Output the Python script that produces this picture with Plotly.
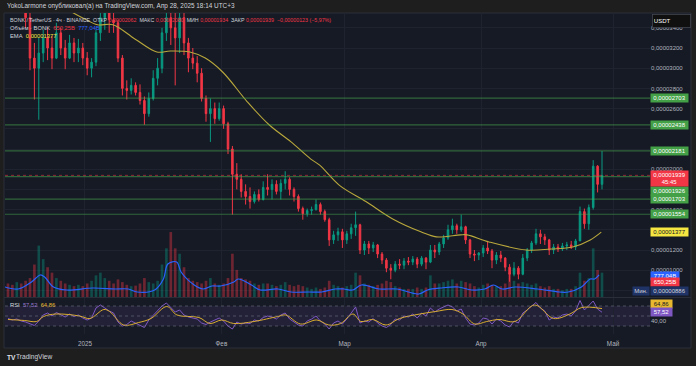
import plotly.graph_objects as go
import pandas as pd

W, H = 696, 366
FONT = "Liberation Sans, Arial, sans-serif"

# ---------------- data (prices in units of 1e-6 USDT, volume in billions BONK) ----------------
candle_dates = pd.date_range("2024-12-14 12:00", periods=136, freq="D")

open_ = [38,37.5,36.8,37.2,36.2,35,31,30,31.5,33, 32,31,33.5,32,31,32.5,31.5,32,31,30,
         30.6,33.5,35,35.5,34.8,34.5,31,28,27.8,28.3, 27.6,26.8,25.5,27,29,30,33.5,35,34,33,
         35,32.5,31,30.5,29.5,27,25.5,26,25,26, 24.5,22,19.5,19,17.8,17.3,16.8,17.5,17,18.2,
         18,18.5,17.8,18.6,19,18,17.3,16.1,15.6,15.9, 16,16.5,15.8,15,13,13.5,13.8,13,13.6,14.2,
         14.5,12,12.6,12.2,12.5,11.6,11,10.2,10,10.6, 10.5,10.9,10.8,11.1,10.6,11.2,10.8,12,11.8,12.6,
         13.2,14,14.4,14,14.3,13,11.6,11.5,11.7,12.2, 11.9,11,11.5,11.2,10.3,9.6,10.2,9.6,11.2,12,
         12.7,13.6,13.3,13,12,12.3,12.1,12.4,12.5,12.3, 12.9,15.8,14.6,16.2,20.3,18.5]
high = [39,38.5,38,37.8,36.8,36.5,32.5,33,33.8,34, 33.2,34.5,34,32.8,33.3,33,32.9,32.5,31.6,31,
        33.8,36,37,37,36,34.8,31.3,28.8,29,28.6, 28.4,27.2,27.6,29.8,31,34,36.5,37,36,36.5,
        36,33,32,31.2,30,27.3,27,26.6,26.6,26.3, 24.7,22.3,20.6,19.5,18.5,18.2,17.8,18,18.8,19.5,
        19,18.9,19,19.8,19.2,18.2,17.5,16.3,16.1,16.3, 17,16.7,16,15.2,13.9,14.2,14.1,13.9,14.6,15.8,
        14.6,12.9,12.9,12.8,12.6,11.8,11.2,10.6,10.9,11.1, 11.2,11.3,11.4,11.3,11.4,11.3,12.5,12.5,12.8,13.5,
        14.5,15.1,14.6,15.5,14.4,13.1,12,11.8,12.5,12.9, 12.1,11.8,11.9,11.3,10.6,10.8,10.4,11.6,12.2,12.9,
        14.1,14,13.6,13.1,12.6,12.6,12.7,12.8,12.9,13.1, 16.3,16.1,16.5,20.9,20.4,21.8]
low = [36.5,36,36,35.8,34,29.8,26.9,24.9,30.6,30.8, 29.9,30.9,31.3,29.9,30.9,30.6,30.6,30.3,29.3,29.1,
       30.2,32.7,33.8,33.5,33.5,30.6,27.3,26.9,27.4,27.3, 26.4,24.4,25.2,26.8,28.3,29.5,32.7,32.3,28.3,31.5,
       31.3,29.6,29.9,28.6,26.7,24.7,22.7,24.5,24.8,24, 21.5,15.5,18,17.2,16.5,16.1,16.6,16.8,16.9,17.4,
       17,17.5,17,18,17.4,16.8,15.8,15,15.3,15.5, 15.9,15.5,14.8,12.4,12.6,12.9,12.2,12.6,13.1,13.4,
       11.6,11.5,11.6,11.8,11.2,10.6,9.8,9.1,9.8,10.1, 10.1,10.5,10.5,10.2,10.4,10.1,10.7,11.2,11.5,12.2,
       13,13.6,13.6,13.8,12.6,11.2,10.9,11,11.3,11.6, 10.2,10.6,10.8,9.9,8.86,9.4,9.1,9.5,10.9,11.7,
       12.5,12.6,12.5,11.5,11.6,11.8,11.9,12,12.1,12, 12.9,14.1,14,16,17.7,18]
close = [37.5,36.8,37.2,36.2,35,31,30,31.5,33,32, 31,33.5,32,31,32.5,31.5,32,31,30,30.6,
         33.5,35,35.5,34.8,34.5,31,28,27.8,28.3,27.6, 26.8,25.5,27,29,30,33.5,35,34,33,35,
         32.5,31,30.5,29.5,27,25.5,26,25,26,24.5, 22,19.5,19,17.8,17.3,16.8,17.5,17,18.2,18,
         18.5,17.8,18.6,19,18,17.3,16.1,15.6,15.9,16, 16.5,15.8,15,13,13.5,13.8,13,13.6,14.2,14.5,
         12,12.6,12.2,12.5,11.6,11,10.2,10,10.6,10.5, 10.9,10.8,11.1,10.6,11.2,10.8,12,11.8,12.6,13.2,
         14,14.4,14,14.3,13,11.6,11.5,11.7,12.2,11.9, 11,11.5,11.2,10.3,9.6,10.2,9.6,11.2,12,12.7,
         13.6,13.3,13,12,12.3,12.1,12.4,12.5,12.3,12.9, 15.8,14.6,16.2,20.3,18.5,19.39]
volume_b = [500,450,550,500,600,700,1200,1900,1400,1100, 900,700,600,500,450,400,450,400,500,600,
            800,900,700,600,500,650,550,450,400,420, 500,700,550,500,600,1200,1800,2400,1800,1600,
            1100,700,600,550,500,600,700,500,450,500, 700,1600,1000,700,650,600,500,450,500,500,
            450,400,450,550,450,400,450,400,350,300, 350,300,350,600,450,400,350,400,450,900,
            800,500,450,400,450,500,600,550,400,350, 300,300,300,350,300,350,800,500,500,550,
            600,650,500,600,550,500,400,350,450,500, 450,400,400,500,900,600,500,550,500,450,
            500,400,350,400,300,300,250,300,300,400, 900,600,700,1800,1000,900]

line_t0 = pd.Timestamp("2024-12-13 20:00")   # origin for the day offsets below
vol_ma_day = [0,3,6,8,9,11,14,20,25,28,30,34,36,37,39,40,43,45,47,49,52,53,56,58,62,65,69,72,75,77,
              79,81,85,89,94,96,99,103,106,109,111,113,116,121,126,128,131,133,134,135]
vol_ma_b = [370,296,555,814,740,370,259,333,296,296,185,259,666,1220,1295,925,444,296,407,407,
            555,666,444,259,296,185,185,185,296,296,259,444,296,296,111,259,333,370,259,296,
            444,296,370,296,185,185,370,666,666,814]
ema_day = [0,10,15,18,21,24.5,29.5,34.5,37.5,42,45.5,49.5,55,60,65,69.5,71.5,76,82,88,94.5,98,
           103.5,105,110,118.5,124,129,133,135.5]
ema_val = [40,37,35.6,34.9,34.3,34.3,32.9,31.6,31.7,31.6,31,29.6,26.7,24.4,22.7,21,20.4,18.4,16.8,
           15.1,13.8,13.3,13.5,13.5,12.8,12,12.1,12.3,13,13.77]

rsi = [45,42,44,40,38,35,31,40,52,56, 50,57,52,48,54,49,52,46,42,46, 66,72,66,60,56,38,30,33,40,36,
       32,27,42,52,60,70,76,68,58,62, 52,48,46,44,36,33,38,42,46,40, 30,24,38,34,36,35,42,40,47,50,
       48,44,52,56,44,38,32,30,40,44, 50,40,34,24,36,40,34,44,56,68, 36,40,38,45,36,30,27,33,44,42,
       50,48,54,46,56,50,66,58,64,68, 72,68,60,64,46,34,32,36,46,44, 34,44,40,32,28,40,36,56,62,70,
       77,66,60,42,48,46,52,54,50,60, 81,62,72,80,64,57.52]
rsi_ma_day = [0,3.8,6.5,8.1,10.9,16.3,18.6,21.8,23.1,26.3,29.7,32.5,36.1,38.4,43.4,45.9,48.6,51.3,
              55.9,61.3,63.1,66.5,70.2,72.9,75.6,78.4,80.2,82.9,85.9,89,93.6,97.2,100.9,103.4,
              106.1,108.8,111.6,115.2,119.7,124,127.7,130.4,135]
rsi_ma = [43,41,39,49,54,50,45,63,59,32,37,45,69,52,47,35,42,35,39,49,52,34,42,32,35,54,39,43,32,
          45,54,59,63,54,34,39,43,39,72,45,54,67,64.86]

levels = [27.03, 24.38, 21.81, 19.26, 17.03, 15.54]
level_labels = ["0,00002703", "0,00002438", "0,00002181", "0,00001926", "0,00001703", "0,00001554"]
last_price, last_label = 19.39, "0,00001939"
ema_last, ema_label = 13.77, "0,00001377"
low_price, low_label = 8.86, "0,00000886"
vol_last, vol_ma_last = 650.25, 777.04
rsi_last, rsi_ma_last = 57.52, 64.86

month_ticks = ["2025-01-01", "2025-02-01", "2025-03-01", "2025-04-01", "2025-05-01"]
month_labels = ["2025", "Фев", "Мар", "Апр", "Май"]
price_ticks = [8, 10, 12, 14, 16, 18, 20, 22, 24, 26, 28, 30, 32, 34]
# tick labels hidden behind value labels on the price scale are left blank
price_hidden = [8, 14, 18, 22, 24]
price_tick_text = ["" if v in price_hidden else "0,0000" + f"{int(round(v * 100)):04d}" for v in price_ticks]

# ---------------- helpers ----------------
def fx(px): return px / W
def fy(py): return 1 - py / H

BG = "#161a25"
GRID = "#1f2330"
GREEN, RED = "#089981", "#f23645"

main_dom = [fy(297), fy(13)]
rsi_dom = [fy(334), fy(298)]
x_dom = [fx(5), fx(650)]

ema_dates = [line_t0 + pd.Timedelta(days=d) for d in ema_day]
vm_dates = [line_t0 + pd.Timedelta(days=d) for d in vol_ma_day]
rsi_ma_dates = [candle_dates[0] + pd.Timedelta(days=d) for d in rsi_ma_day]
vcol = ["rgba(8,153,129,0.4)" if c >= o else "rgba(242,54,69,0.4)" for o, c in zip(open_, close)]

fig = go.Figure()
fig.add_trace(go.Bar(x=candle_dates, y=volume_b, marker_color=vcol, marker_line_width=0,
                     width=0.6 * 86400000, xaxis="x", yaxis="y", hoverinfo="skip"))
fig.add_trace(go.Scatter(x=vm_dates, y=vol_ma_b, mode="lines", line=dict(color="#2962ff", width=1.2, shape="spline"),
                         xaxis="x", yaxis="y", hoverinfo="skip"))
fig.add_trace(go.Candlestick(x=candle_dates, open=open_, high=high, low=low, close=close,
                             increasing=dict(line=dict(color=GREEN, width=1), fillcolor=GREEN),
                             decreasing=dict(line=dict(color=RED, width=1), fillcolor=RED),
                             whiskerwidth=0, xaxis="x", yaxis="y3", hoverinfo="skip"))
fig.add_trace(go.Scatter(x=ema_dates, y=ema_val, mode="lines", line=dict(color="#b9a83c", width=1.1, shape="spline"),
                         xaxis="x", yaxis="y3", hoverinfo="skip"))
fig.add_trace(go.Scatter(x=candle_dates, y=rsi, mode="lines", line=dict(color="#7e57c2", width=1),
                         xaxis="x2", yaxis="y2", hoverinfo="skip"))
fig.add_trace(go.Scatter(x=rsi_ma_dates, y=rsi_ma, mode="lines", line=dict(color="#d9ad2f", width=1, shape="spline"),
                         xaxis="x2", yaxis="y2", hoverinfo="skip"))

shapes = []
shapes.append(dict(type="rect", xref="paper", yref="paper", x0=fx(4), x1=fx(691), y0=fy(348), y1=fy(13),
                   fillcolor=BG, line=dict(color="#2a2e39", width=1), layer="below"))
shapes.append(dict(type="line", xref="paper", yref="paper", x0=fx(4), x1=fx(691), y0=fy(297.5), y1=fy(297.5),
                   line=dict(color="#2a2e39", width=1)))
shapes.append(dict(type="rect", xref="paper", yref="y2", x0=x_dom[0], x1=x_dom[1], y0=30, y1=70,
                   fillcolor="rgba(126,87,194,0.12)", line=dict(width=0), layer="below"))
for lv in (70, 50, 30):
    shapes.append(dict(type="line", xref="paper", yref="y2", x0=x_dom[0], x1=x_dom[1], y0=lv, y1=lv,
                       line=dict(color="rgba(120,123,134,0.55)", width=1, dash="dot")))
for lv in levels:
    shapes.append(dict(type="line", xref="paper", yref="y3", x0=x_dom[0], x1=x_dom[1], y0=lv, y1=lv,
                       line=dict(color="rgba(76,175,80,0.5)", width=1.2)))
shapes.append(dict(type="line", xref="paper", yref="y3", x0=x_dom[0], x1=x_dom[1], y0=last_price, y1=last_price,
                   line=dict(color="rgba(242,54,69,0.55)", width=1, dash="dot")))

ann = []
def txt(x, y, text, size=6.3, color="#d1d4dc", xanchor="left", **kw):
    ann.append(dict(x=fx(x), y=fy(y), xref="paper", yref="paper", text=text, showarrow=False,
                    xanchor=xanchor, yanchor="middle", font=dict(size=size, color=color, family=FONT), **kw))

def box(text, yval, bg, fg="#ffffff", yref="y3", yshift=0, x=650, xanchor="left", width=37, height=8):
    ann.append(dict(x=fx(x), y=yval, xref="paper", yref=yref, text=text, showarrow=False,
                    xanchor=xanchor, yanchor="middle", yshift=yshift, bgcolor=bg, width=width, height=height,
                    borderpad=0, align="center", font=dict(size=6, color=fg, family=FONT)))

def span(t, c): return f'<span style="color:{c}">{t}</span>'
nb = "\u00a0"

txt(5, 6.5, "YokoLarmone опубликовал(а) на TradingView.com, Апр 28, 2025 18:14 UTC+3", size=6.4)
txt(8, 19.5, "BONK / TetherUS · 4ч · BINANCE" + nb * 2 + "ОТКР" + nb + span("0,00002062", RED) + nb * 2 +
    "МАКС" + nb + span("0,00002080", RED) + nb * 2 + "МИН" + nb + span("0,00001934", RED) + nb * 2 +
    "ЗАКР" + nb + span("0,00001939", RED) + nb * 2 + span("−0,00000123 (−5,97%)", RED), size=5.3)
txt(8, 28, "Объём · BONK" + nb * 2 + span("650,25B", RED) + nb * 2 + span("777,04B", "#2962ff"), size=5.8)
txt(8, 36.5, "EMA" + nb * 2 + span(ema_label, "#f5e642"), size=5.8)
txt(8, 305, "RSI" + nb * 2 + span("57,52", "#9575cd") + nb * 2 + span("64,86", "#e8b92f"), size=5.8)
txt(14, 357, "TradingView", size=6.6)
txt(5, 357, "<b>TV</b>", size=6.6, color="#e0e3eb")

ann.append(dict(x=fx(652), y=fy(21), xref="paper", yref="paper", text="USDT", showarrow=False,
                xanchor="left", yanchor="middle", bgcolor="#101010", bordercolor="#434651", borderwidth=0.8,
                width=35, height=10, align="left", font=dict(size=6, color="#ffffff", family=FONT)))

for lv, lab in zip(levels, level_labels):
    box(lab, lv, "#43a047", yshift=-14.5 if lv == 19.26 else 0)
box(last_label + "<br>45:45", last_price, RED, yshift=-3.5, height=15)
box(ema_label, ema_last, "#f5e642", fg="#131722")
box("777,04B", vol_ma_last, "#2962ff", yref="y", width=28)
box("650,25B", vol_last, RED, yref="y", yshift=-3, width=28)
box(low_label, low_price, "#1f3366", fg="#d1d4dc", yshift=-9.5)
box("Мин.", low_price, "#1f3366", fg="#d1d4dc", yshift=-9.5, x=649.5, xanchor="right", width=16)
box("64,86", rsi_ma_last, "#e8b92f", fg="#131722", yref="y2", yshift=4.4, width=21)
box("57,52", rsi_last, "#7e57c2", yref="y2", width=21)

fig.update_layout(
    width=W, height=H, margin=dict(l=0, r=0, t=0, b=0),
    paper_bgcolor="#1e1e1e", plot_bgcolor="rgba(0,0,0,0)",
    showlegend=False, bargap=0.2, boxgap=0.5,
    xaxis=dict(domain=x_dom, anchor="y", range=["2024-12-13 19:40", "2025-05-09 09:50"],
               rangeslider=dict(visible=False), showticklabels=False, tickvals=month_ticks,
               showgrid=True, gridcolor=GRID, zeroline=False, showline=False, ticks=""),
    xaxis2=dict(domain=x_dom, anchor="y2", matches="x", tickvals=month_ticks, ticktext=month_labels,
                showgrid=True, gridcolor=GRID, zeroline=False, showline=False,
                ticks="outside", ticklen=3, tickcolor="rgba(0,0,0,0)",
                tickfont=dict(size=6.3, color="#b2b5be", family=FONT)),
    yaxis=dict(domain=main_dom, range=[0, 10500], visible=False, fixedrange=True),
    yaxis3=dict(overlaying="y", anchor="x", side="right", range=[7.347, 35.465],
                tickvals=price_ticks, ticktext=price_tick_text, showgrid=True, gridcolor=GRID,
                zeroline=False, showline=False, ticks="",
                tickfont=dict(size=6, color="#b2b5be", family=FONT)),
    yaxis2=dict(domain=rsi_dom, anchor="x2", side="right", range=[14, 86], tickvals=[40],
                ticktext=["40,00"], showgrid=False, zeroline=False, showline=False, ticks="",
                tickfont=dict(size=6, color="#b2b5be", family=FONT)),
    shapes=shapes, annotations=ann,
)

fig.write_html("out.html", config={"displayModeBar": False},
               post_script="document.body.style.margin='0';document.body.style.overflow='hidden';")
